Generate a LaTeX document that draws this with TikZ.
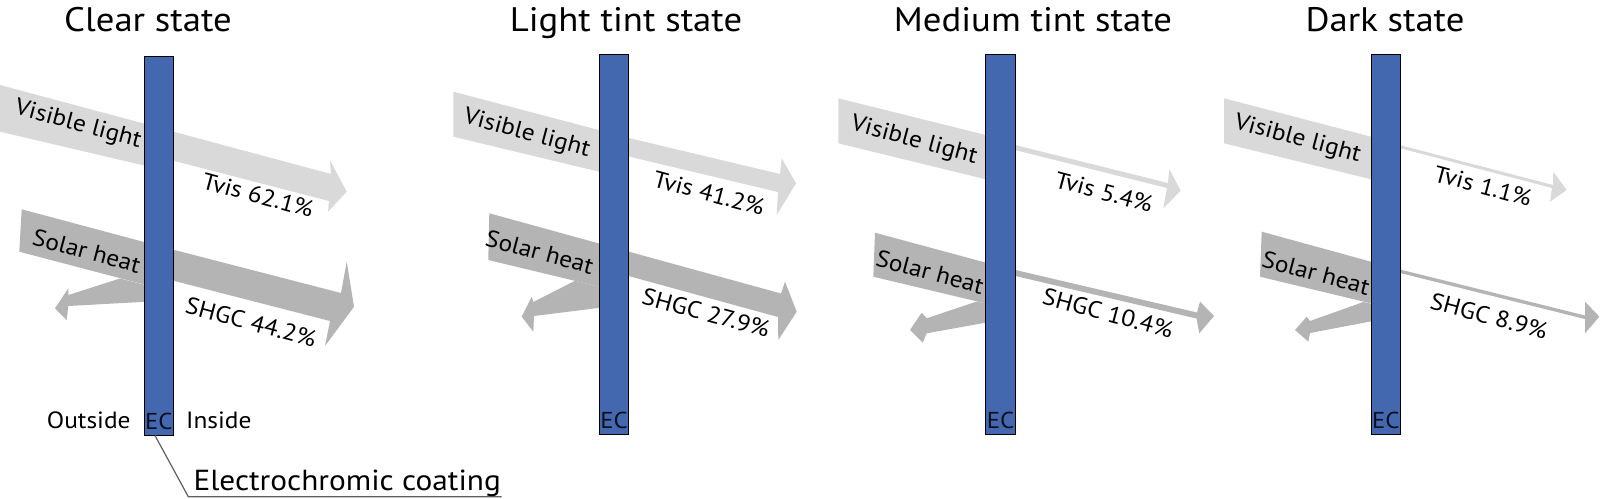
\documentclass[tikz,border=0pt]{standalone}
\usepackage{fontspec}
\setmainfont{PT Sans}[FakeStretch=1.08]
\definecolor{ecblue}{HTML}{4468B0}
\definecolor{vislight}{HTML}{D9D9D9}
\definecolor{solheat}{HTML}{B4B4B4}
\definecolor{leadgray}{HTML}{606060}
\begin{document}
\begin{tikzpicture}[x=1pt,y=-1pt,
  vis/.style={fill=vislight, draw=none},
  sol/.style={fill=solheat, draw=none},
  ecbar/.style={draw=black, line width=1pt, fill=ecblue, inner sep=0pt, outer sep=0pt, minimum width=29.5pt},
  lbl/.style={font=\fontsize{23.5}{27}\selectfont, text=black, inner sep=0pt, rotate=-15},
  ttl/.style={font=\fontsize{34}{38}\selectfont, inner sep=0pt, anchor=base},
  side/.style={font=\fontsize{23.5}{27}\selectfont, inner sep=0pt, anchor=base west},
  eclbl/.style={font=\fontsize{23}{27}\selectfont, text=black!85!ecblue, inner sep=0pt, anchor=base},
  leader/.style={draw=leadgray, line width=1.2pt}
]
\useasboundingbox (0,0) rectangle (1600,498);
\fill[white] (0,0) rectangle (1600,498);

% ---------- Panel 1: Clear state ----------
\fill[vis] (0,85) -- (159,127.6) -- (159,169) -- (0,131.7) -- cycle;
\fill[vis] (159,127.8) -- (331,174) -- (330,160) -- (346.7,191.7) -- (328,211.7) -- (329,201) -- (159,157) -- cycle;
\fill[sol] (21.7,209.3) -- (159,246) -- (159,288.4) -- (19.3,251.7) -- cycle;
\fill[sol] (159,246) -- (341,293) -- (346.7,261.7) -- (354,306.7) -- (325,346) -- (330,321) -- (159,277) -- cycle;
\fill[sol] (159,288.4) -- (120,278.5) -- (68.3,295) -- (68.3,288.3) -- (55,308.3) -- (66.7,320) -- (68.3,306) -- (159,301) -- cycle;

% ---------- Panel 2: Light tint state ----------
\fill[vis] (453.3,91.7) -- (614,134) -- (614,175.3) -- (453.3,136.7) -- cycle;
\fill[vis] (614,134.5) -- (780,174) -- (781.7,158.3) -- (796,183.3) -- (776.7,215) -- (778,192) -- (614,153) -- cycle;
\fill[sol] (489.3,213.3) -- (614,247.6) -- (614,290.2) -- (488.3,260) -- cycle;
\fill[sol] (614,247.6) -- (781,293.5) -- (785,281.7) -- (796.7,311.7) -- (778.3,340) -- (778,317) -- (614,272) -- cycle;
\fill[sol] (614,290.2) -- (575,280.8) -- (533.3,302) -- (531.7,296.7) -- (521.7,316.7) -- (533.3,331.7) -- (534,316) -- (614,306) -- cycle;

% ---------- Panel 3: Medium tint state ----------
\fill[vis] (838.3,98.3) -- (1000.5,138.7) -- (1000.5,182.9) -- (838.3,143.3) -- cycle;
\fill[vis] (1000.5,141.4) -- (1168,183) -- (1169.3,169.3) -- (1180.7,190.7) -- (1163.3,208.3) -- (1167,188) -- (1000.5,146.4) -- cycle;
\fill[sol] (875,232.7) -- (1000.5,266.6) -- (1000.5,307) -- (873.3,276.7) -- cycle;
\fill[sol] (1000.5,266.5) -- (1197,312.5) -- (1200,301.7) -- (1214,316) -- (1199.3,333.3) -- (1196.5,318.5) -- (1000.5,272.5) -- cycle;
\fill[sol] (1000.5,307) -- (976.7,301.5) -- (926.7,318.3) -- (921.7,312.7) -- (910,330) -- (922.7,342.7) -- (926.7,333.3) -- (1000.5,320) -- cycle;

% ---------- Panel 4: Dark state ----------
\fill[vis] (1224,98.3) -- (1386,140.6) -- (1386,182.9) -- (1224,143.3) -- cycle;
\fill[vis] (1386,141.5) -- (1553,185) -- (1553.3,171.7) -- (1566.7,190) -- (1550,201.7) -- (1552,188) -- (1386,144.5) -- cycle;
\fill[sol] (1261.7,231.7) -- (1386,265.8) -- (1386,307) -- (1260,276.7) -- cycle;
\fill[sol] (1386,266) -- (1585,315.5) -- (1585,301.7) -- (1599.3,316.7) -- (1585,333.3) -- (1585,319) -- (1386,269.5) -- cycle;
\fill[sol] (1386,307) -- (1363.3,302) -- (1310,321) -- (1306.7,316.7) -- (1295,330) -- (1308.3,341.7) -- (1310,333) -- (1386,318.5) -- cycle;

% ---------- EC bars ----------
\node[ecbar, minimum height=379.5pt] (bar1) at (158.75,245.75) {};
\node[ecbar, minimum height=380pt] (bar2) at (614,244.3) {};
\node[ecbar, minimum height=380pt] (bar3) at (1000.5,244) {};
\node[ecbar, minimum height=380pt] (bar4) at (1385.85,244) {};

\node[eclbl] (ec1) at (158.75,429.3) {EC};
\node[eclbl] (ec2) at (614,428.6) {EC};
\node[eclbl] (ec3) at (1000.5,428.6) {EC};
\node[eclbl] (ec4) at (1385.85,428.6) {EC};

% ---------- Titles ----------
\node[ttl] (t1) at (148,31.7) {Clear state};
\node[ttl] (t2) at (626,31.7) {Light tint state};
\node[ttl] (t3) at (1033,31.7) {Medium tint state};
\node[ttl] (t4) at (1385,31.7) {Dark state};

% ---------- Labels ----------
\node[lbl] (v1) at (78,125) {Visible light};
\node[lbl] (tv1) at (258,195) {Tvis 62.1\%};
\node[lbl] (s1) at (86.7,251) {Solar heat};
\node[lbl] (sh1) at (251,322) {SHGC 44.2\%};

\node[lbl] (v2) at (526.7,134) {Visible light};
\node[lbl] (tv2) at (709,193) {Tvis 41.2\%};
\node[lbl] (s2) at (539.7,252) {Solar heat};
\node[lbl] (sh2) at (706,313) {SHGC 27.9\%};

\node[lbl] (v3) at (914,141) {Visible light};
\node[lbl] (tv3) at (1104,192) {Tvis 5.4\%};
\node[lbl] (s3) at (930,272) {Solar heat};
\node[lbl] (sh3) at (1108,313) {SHGC 10.4\%};

\node[lbl] (v4) at (1297.5,139.5) {Visible light};
\node[lbl] (tv4) at (1483,186) {Tvis 1.1\%};
\node[lbl] (s4) at (1316,273) {Solar heat};
\node[lbl] (sh4) at (1489,316) {SHGC 8.9\%};

% ---------- Outside / Inside / coating ----------
\node[side] (out) at (46.7,428.3) {Outside};
\node[side] (ins) at (186,428.3) {Inside};
\coordinate (lead1) at (155,435.5);
\coordinate (leadbend) at (188.3,496.7);
\coordinate (leadend) at (501.7,496.7);
\draw[leader] (lead1) -- (leadbend) -- (leadend);
\node[font=\fontsize{29}{33}\selectfont, inner sep=0pt, anchor=base west] (coat) at (193.3,490) {Electrochromic coating};
\end{tikzpicture}
\end{document}
